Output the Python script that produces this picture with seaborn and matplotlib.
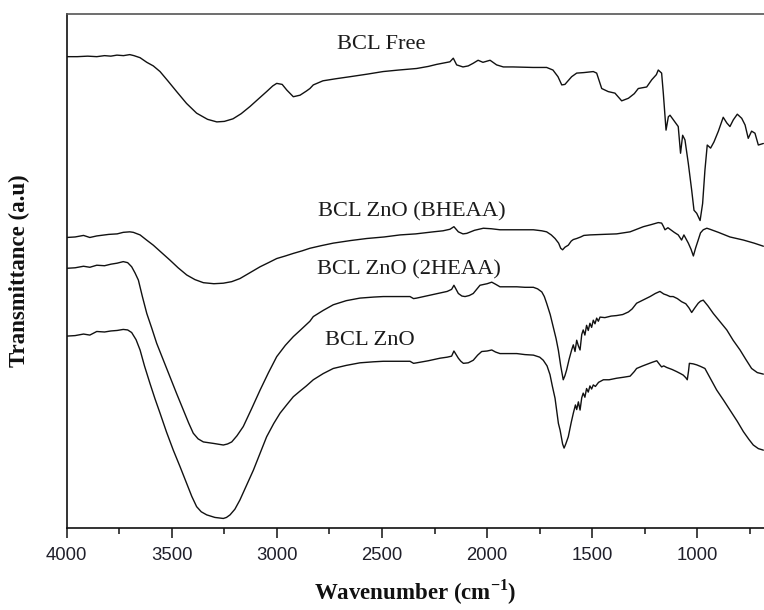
import matplotlib
matplotlib.use("Agg")
import matplotlib.pyplot as plt
from matplotlib.ticker import MultipleLocator, NullLocator
import seaborn as sns

# FTIR spectra: wavenumber (cm^-1) and transmittance (a.u., stacked)
free_wn = [4000, 3950, 3900, 3857, 3820, 3790, 3761, 3730, 3700, 3680, 3651, 3619, 3588, 3556, 3517,
           3477, 3430, 3382, 3330, 3286, 3250, 3209, 3170, 3128, 3090, 3049, 3020, 3001, 2975, 2953,
           2922, 2890, 2860, 2843, 2827, 2781, 2720, 2652, 2570, 2495, 2420, 2335, 2280, 2240, 2177,
           2161, 2145, 2115, 2090, 2067, 2043, 2020, 1986, 1955, 1923, 1877, 1782, 1717, 1687, 1663,
           1645, 1630, 1598, 1574, 1540, 1495, 1479, 1455, 1424, 1392, 1360, 1328, 1300, 1281, 1241,
           1217, 1195, 1186, 1170, 1162, 1149, 1138, 1130, 1107, 1091, 1080, 1070, 1059, 1043, 1027,
           1016, 1003, 987, 975, 964, 953, 937, 921, 900, 877, 860, 845, 829, 810, 789,
           773, 758, 742, 726, 710, 686]
free_t = [91.7, 91.7, 91.8, 91.7, 91.9, 91.8, 92.0, 91.9, 92.1, 91.9, 91.5, 90.6, 89.9, 88.8, 86.9,
          84.9, 82.6, 80.7, 79.5, 79.0, 79.1, 79.6, 80.6, 82.0, 83.4, 84.9, 86.0, 86.5, 86.3, 85.2,
          83.9, 84.2, 85.0, 85.5, 86.2, 87.0, 87.4, 87.8, 88.3, 88.8, 89.1, 89.4, 89.8, 90.2, 90.7,
          91.4, 90.1, 89.7, 89.9, 90.4, 91.0, 90.6, 91.0, 90.1, 89.7, 89.7, 89.6, 89.6, 89.1, 87.8,
          86.2, 86.3, 87.8, 88.5, 88.6, 88.8, 88.5, 85.5, 84.9, 84.6, 83.1, 83.6, 84.5, 85.5, 85.8,
          87.2, 88.2, 89.1, 88.5, 84.6, 77.4, 80.0, 80.3, 79.0, 78.1, 72.9, 76.4, 75.5, 70.9, 65.7,
          61.8, 61.2, 59.8, 63.1, 69.6, 74.5, 73.9, 75.1, 77.2, 79.9, 78.8, 78.1, 79.4, 80.5, 79.7,
          78.4, 75.8, 77.2, 76.8, 74.5, 74.8]

bheaa_wn = [4000, 3960, 3920, 3890, 3857, 3800, 3760, 3731, 3700, 3683, 3651, 3620, 3588, 3550, 3509,
            3470, 3429, 3390, 3350, 3300, 3255, 3215, 3176, 3130, 3080, 3040, 3001, 2960, 2922, 2880,
            2843, 2790, 2732, 2650, 2573, 2490, 2414, 2340, 2256, 2210, 2177, 2158, 2137, 2115, 2097,
            2060, 2018, 1980, 1939, 1860, 1780, 1740, 1717, 1695, 1677, 1660, 1650, 1641, 1630, 1614,
            1600, 1590, 1574, 1555, 1540, 1511, 1450, 1384, 1320, 1257, 1220, 1186, 1170, 1162, 1154,
            1140, 1130, 1110, 1091, 1075, 1064, 1043, 1030, 1019, 1008, 996, 985, 972, 955, 940,
            900, 845, 781, 730, 686]
bheaa_t = [56.5, 56.6, 56.9, 56.5, 56.8, 57.1, 57.2, 57.5, 57.6, 57.5, 57.0, 56.0, 55.0, 53.6, 52.1,
           50.6, 49.2, 48.3, 47.7, 47.5, 47.6, 47.9, 48.5, 49.6, 50.8, 51.6, 52.4, 52.9, 53.4, 53.9,
           54.4, 54.9, 55.4, 55.9, 56.3, 56.6, 57.0, 57.2, 57.6, 57.8, 58.1, 58.6, 57.6, 57.2, 57.3,
           57.9, 58.3, 58.2, 58.0, 58.0, 58.0, 57.8, 57.6, 57.0, 56.3, 55.4, 54.4, 54.1, 54.6, 55.0,
           55.8, 56.1, 56.3, 56.6, 56.9, 57.0, 57.1, 57.2, 57.6, 58.6, 59.0, 59.4, 59.3, 58.7, 58.0,
           58.4, 58.1, 57.5, 57.0, 56.0, 57.0, 55.4, 54.2, 52.9, 54.5, 56.0, 57.4, 58.0, 58.3, 58.1,
           57.5, 56.6, 56.0, 55.4, 54.8]

heaa2_wn = [4000, 3960, 3920, 3890, 3857, 3820, 3790, 3760, 3731, 3710, 3691, 3675, 3659, 3640, 3619,
            3595, 3572, 3540, 3509, 3477, 3445, 3420, 3398, 3375, 3350, 3300, 3255, 3235, 3215, 3190,
            3160, 3120, 3080, 3040, 3001, 2960, 2922, 2890, 2843, 2827, 2780, 2732, 2670, 2605, 2540,
            2494, 2430, 2367, 2350, 2335, 2280, 2224, 2190, 2169, 2158, 2137, 2120, 2105, 2085, 2066,
            2050, 2034, 2000, 1978, 1960, 1939, 1900, 1859, 1820, 1780, 1760, 1740, 1728, 1717, 1700,
            1685, 1672, 1661, 1650, 1638, 1630, 1622, 1610, 1598, 1590, 1582, 1574, 1566, 1558, 1550,
            1543, 1535, 1527, 1519, 1511, 1503, 1495, 1487, 1479, 1471, 1463, 1440, 1410, 1384, 1355,
            1328, 1310, 1289, 1260, 1225, 1200, 1178, 1160, 1146, 1130, 1115, 1095, 1075, 1055, 1040,
            1027, 1012, 996, 985, 972, 950, 924, 890, 860, 830, 797, 770, 742, 715, 686]
heaa2_t = [50.5, 50.6, 50.9, 50.7, 51.1, 51.0, 51.3, 51.5, 51.8, 51.6, 50.8, 49.6, 48.2, 45.0, 41.7,
           38.8, 35.9, 32.6, 29.4, 26.1, 22.9, 20.4, 18.4, 17.3, 16.7, 16.4, 16.1, 16.3, 16.7, 17.9,
           19.7, 23.2, 26.8, 30.2, 33.3, 35.5, 37.2, 38.4, 40.2, 41.1, 42.3, 43.4, 44.2, 44.7, 44.9,
           45.0, 45.0, 45.0, 44.6, 44.7, 45.2, 45.7, 46.0, 46.4, 47.2, 45.6, 45.1, 45.0, 45.2, 45.6,
           46.4, 47.2, 47.5, 47.8, 47.4, 46.9, 46.9, 46.9, 46.8, 46.8, 46.5, 45.9, 45.0, 43.7, 41.5,
           39.0, 36.8, 34.5, 31.5, 28.8, 29.6, 30.7, 32.8, 34.6, 35.6, 34.3, 36.5, 35.4, 34.6, 37.6,
           38.5, 37.5, 39.4, 38.4, 39.8, 39.0, 40.4, 39.7, 40.8, 40.2, 41.0, 40.9, 41.2, 41.3, 41.5,
           42.0, 42.6, 43.7, 44.3, 45.0, 45.6, 46.0, 45.5, 45.3, 45.0, 45.0, 44.6, 44.0, 43.6, 42.8,
           41.9, 42.8, 43.7, 44.1, 44.3, 43.2, 41.7, 40.0, 38.5, 36.5, 34.6, 32.8, 31.0, 30.2, 29.9]

zno_wn = [4000, 3960, 3920, 3890, 3857, 3820, 3790, 3760, 3731, 3710, 3691, 3670, 3651, 3630, 3604,
          3580, 3556, 3525, 3493, 3460, 3429, 3405, 3382, 3360, 3334, 3295, 3255, 3240, 3223, 3200,
          3176, 3145, 3112, 3080, 3049, 3015, 2985, 2950, 2922, 2890, 2860, 2827, 2780, 2732, 2670,
          2605, 2540, 2494, 2430, 2367, 2350, 2335, 2280, 2224, 2190, 2169, 2158, 2137, 2125, 2113,
          2090, 2066, 2045, 2026, 2000, 1978, 1960, 1939, 1900, 1859, 1820, 1780, 1750, 1733, 1715,
          1701, 1690, 1677, 1661, 1653, 1641, 1634, 1626, 1614, 1600, 1590, 1580, 1574, 1566, 1558,
          1550, 1543, 1535, 1527, 1519, 1511, 1503, 1495, 1485, 1470, 1447, 1420, 1384, 1350, 1320,
          1300, 1289, 1260, 1241, 1215, 1193, 1180, 1170, 1160, 1146, 1120, 1099, 1080, 1067, 1055,
          1048, 1042, 1038, 1020, 1003, 985, 964, 940, 908, 875, 845, 810, 781, 755, 734,
          710, 686]
zno_t = [37.3, 37.4, 37.7, 37.5, 38.2, 38.1, 38.3, 38.4, 38.6, 38.5, 38.0, 36.6, 34.6, 31.5, 28.1,
         25.1, 22.3, 18.6, 15.1, 11.8, 8.6, 6.1, 4.1, 3.1, 2.5, 2.0, 1.8, 2.0, 2.5, 3.6,
         5.4, 8.2, 11.2, 14.5, 17.7, 20.3, 22.3, 24.1, 25.5, 26.6, 27.6, 28.8, 30.0, 31.0, 31.6,
         32.1, 32.3, 32.4, 32.4, 32.4, 32.0, 32.1, 32.5, 33.0, 33.2, 33.4, 34.4, 33.0, 32.4, 32.0,
         32.1, 32.6, 33.6, 34.3, 34.4, 34.6, 34.2, 33.9, 33.9, 33.9, 33.7, 33.6, 33.2, 32.6, 31.5,
         29.8, 27.6, 25.2, 20.3, 19.0, 16.3, 15.5, 16.3, 17.7, 20.5, 22.3, 23.9, 23.0, 24.5, 22.9,
         25.3, 26.2, 25.4, 27.1, 26.4, 27.6, 27.0, 27.8, 27.5, 28.3, 28.8, 28.8, 29.1, 29.3, 29.5,
         30.4, 31.0, 31.5, 31.8, 32.2, 32.5, 31.8, 31.3, 31.5, 31.2, 30.8, 30.4, 30.0, 29.7, 29.2,
         28.8, 30.5, 32.0, 31.9, 31.7, 31.4, 31.0, 29.2, 26.8, 24.8, 22.9, 20.7, 18.7, 17.2, 16.1,
         15.4, 15.1]

series_labels = ["BCL Free", "BCL ZnO (BHEAA)", "BCL ZnO (2HEAA)", "BCL ZnO"]
series = [(free_wn, free_t), (bheaa_wn, bheaa_t), (heaa2_wn, heaa2_t), (zno_wn, zno_t)]
label_xy = [(0.387, 0.940), (0.360, 0.615), (0.3585, 0.502), (0.370, 0.364)]

x_ticks = [4000, 3500, 3000, 2500, 2000, 1500, 1000]

sns.set_style("ticks")
plt.rcParams["font.family"] = ["Liberation Serif", "DejaVu Serif"]
plt.rcParams["mathtext.fontset"] = "custom"
plt.rcParams["mathtext.rm"] = "Liberation Serif"
plt.rcParams["mathtext.bf"] = "Liberation Serif:bold"

fig = plt.figure(figsize=(7.64, 6.10), dpi=100)
ax = fig.add_axes([0.0873, 0.1349, 0.9127, 0.8421])

for wn, t in series:
    assert len(wn) == len(t)
    sns.lineplot(x=wn, y=t, ax=ax, color="#111111", linewidth=1.0,
                 sort=False, estimator=None)

for text, (xf, yf) in zip(series_labels, label_xy):
    ax.text(xf, yf, text, transform=ax.transAxes, ha="left", va="center",
            fontsize=16.2, color="#1a1a1a")

ax.set_xlim(4000, 683)
ax.set_ylim(0, 100)
ax.set_xticks(x_ticks)
ax.xaxis.set_minor_locator(MultipleLocator(250))
ax.yaxis.set_major_locator(NullLocator())
ax.yaxis.set_minor_locator(NullLocator())
for lab in ax.get_xticklabels():
    lab.set_fontfamily(["Liberation Sans", "DejaVu Sans"])
ax.tick_params(axis="x", which="major", direction="out", length=7, width=1.1,
               labelsize=13.3, pad=7, colors="#111111", labelcolor="#1f1f2a")
ax.tick_params(axis="x", which="minor", direction="out", length=4, width=1.1, colors="#111111")

for side in ("left", "bottom"):
    ax.spines[side].set_color("#111111")
    ax.spines[side].set_linewidth(1.2)
ax.spines["top"].set_color("#555555")
ax.spines["top"].set_linewidth(1.2)
ax.spines["right"].set_visible(False)

ax.set_xlabel(r"Wavenumber (cm$^{\mathbf{-1}}$)", fontsize=16.5, fontweight="bold", color="#111111")
ax.set_ylabel("Transmittance (a.u)", fontsize=16.5, fontweight="bold", color="#111111")
ax.xaxis.set_label_coords(0.5, -0.096)
ax.yaxis.set_label_coords(-0.052, 0.5)

fig.savefig("out.png", dpi=100)
